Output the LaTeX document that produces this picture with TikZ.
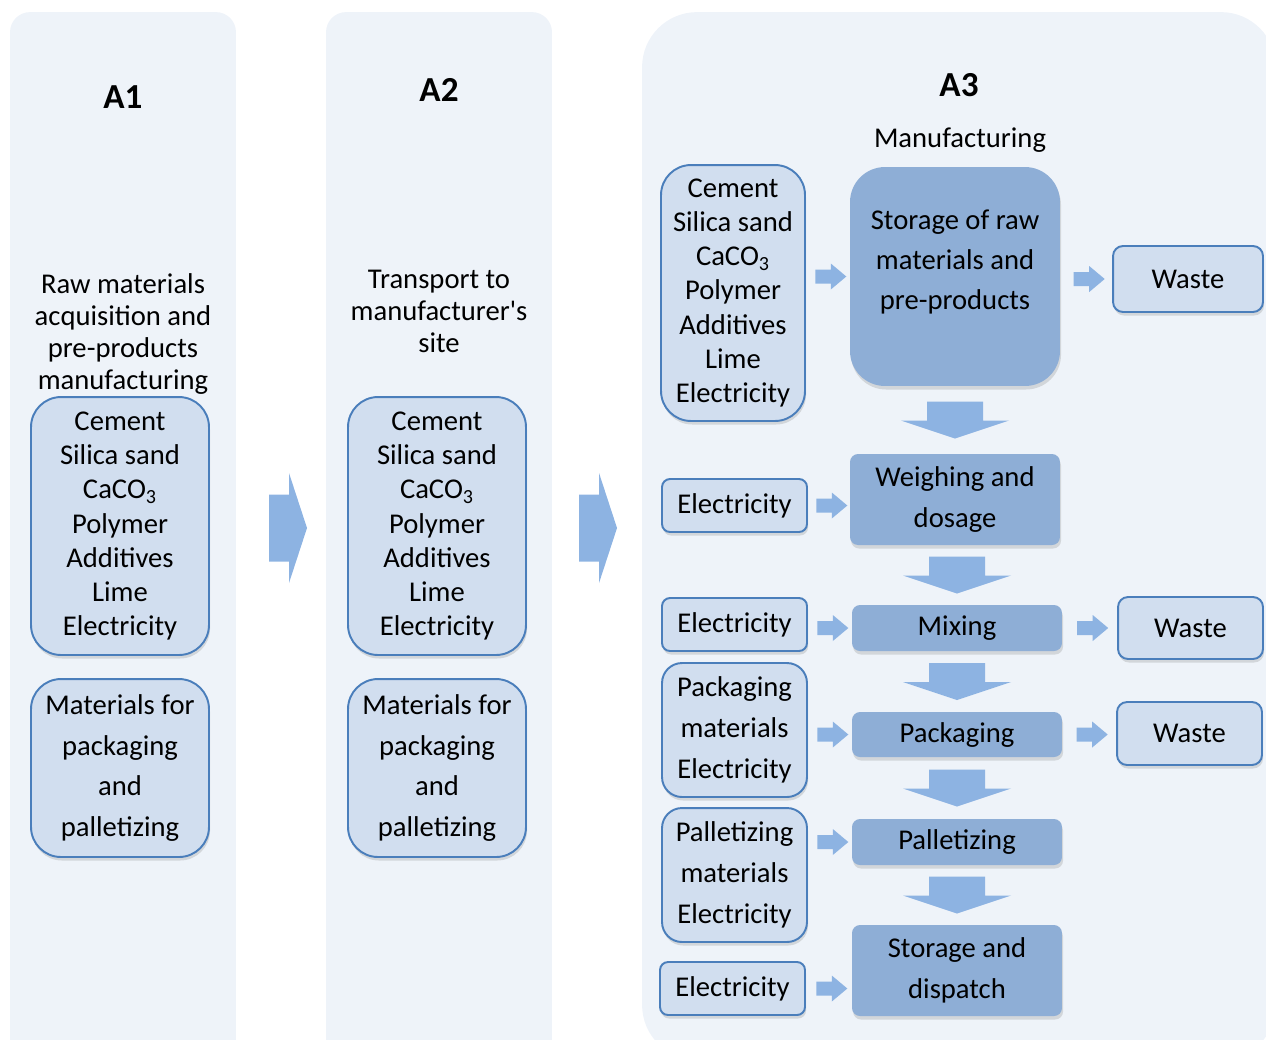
\documentclass[tikz,border=0pt]{standalone}
\usepackage{fontspec}
\setmainfont{Carlito}
\usetikzlibrary{calc, shadows}

\definecolor{panelbg}{HTML}{EEF3F9}
\definecolor{boxfill}{HTML}{D1DEEF}
\definecolor{boxline}{HTML}{4A7EBB}
\definecolor{procfill}{HTML}{8EAED6}
\definecolor{arrowfill}{HTML}{8DB3E2}

\newcommand{\harr}[3]{%
  \coordinate (m) at ($(#1.east)!0.5!(#2.west)$);
  \fill[arrowfill] ($(m |- #3)+(3,0)$) ++(-15.5,-7) -- ++(15.5,0) -- ++(0,-6)
    -- ++(15.5,13) -- ++(-15.5,13) -- ++(0,-6) -- ++(-15.5,0) -- cycle;}
\newcommand{\varr}[2]{%
  \coordinate (m) at ($(#1.south)!0.5!(#2.north)$);
  \fill[arrowfill] (m -| #2) ++(-28,-18.5) -- ++(56,0) -- ++(0,19) -- ++(26,0)
    -- ++(-54,18) -- ++(-54,-18) -- ++(26,0) -- cycle;}
\newcommand{\bigarr}[3]{%
  \coordinate (m) at ($(#1.east)!0.5!(#2.west)$);
  \fill[arrowfill] ($(m)+(#3,-8)$) ++(-19,-33.5) -- ++(20,0) -- ++(0,-21.5)
    -- ++(18,55) -- ++(-18,55) -- ++(0,-21.5) -- ++(-20,0) -- cycle;}

\begin{document}
\begin{tikzpicture}[x=0.02cm, y=-0.02cm,
  font=\fontsize{16.3}{19.4}\selectfont,
  panel/.style={fill=panelbg, rounded corners=0.4cm, minimum width=4.52cm, minimum height=20.96cm, inner sep=0},
  title/.style={font=\fontsize{20}{24}\bfseries},
  desc/.style={align=center, font=\fontsize{16.3}{18.2}\selectfont},
  inbox/.style={draw=boxline, line width=1.1pt, fill=boxfill, align=center, inner sep=0,
    drop shadow={shadow xshift=0.6pt, shadow yshift=-2pt, opacity=0.25}},
  procbox/.style={fill=procfill, align=center, inner sep=0, rounded corners=0.16cm,
    minimum width=4.2cm, drop shadow={shadow xshift=0.6pt, shadow yshift=-2pt, opacity=0.25}},
  listbox/.style={inbox, rounded corners=0.6cm, minimum width=3.56cm, minimum height=5.16cm},
  matbox/.style={inbox, rounded corners=0.6cm, minimum width=3.56cm, minimum height=3.56cm,
    font=\fontsize{16.3}{23.3}\selectfont},
  smallbox/.style={inbox, rounded corners=0.16cm, minimum width=2.9cm, minimum height=1.06cm},
  wastebox/.style={inbox, rounded corners=0.2cm, minimum width=2.9cm, minimum height=1.26cm},
  twoline/.style={font=\fontsize{16.3}{23.3}\selectfont}]
\useasboundingbox (0,0) rectangle (1266,1039);

\node[panel] (p1) at (123,536) {};
\node[panel] (p2) at (439,536) {};
\node[panel, rounded corners=1.1cm, minimum width=12.68cm] (p3) at (959,536) {};

\node[title] (t1) at (123,97) {A1};
\node[title] (t2) at (439,90) {A2};
\node[title] (t3) at (959,85) {A3};

\node[desc] (d1) at (123,334) {Raw materials\\acquisition and\\pre-products\\manufacturing};
\node[desc] (d2) at (439,311) {Transport to\\manufacturer\textquotesingle s\\site};
\node (d3) at (960,140) {Manufacturing};

\node[listbox] (l1) at (120,526) {Cement\\Silica sand\\CaCO\textsubscript{3}\\Polymer\\Additives\\Lime\\Electricity};
\node[matbox] (k1) at (120,768) {Materials for\\packaging\\and\\palletizing};
\node[listbox] (l2) at (437,526) {Cement\\Silica sand\\CaCO\textsubscript{3}\\Polymer\\Additives\\Lime\\Electricity};
\node[matbox] (k2) at (437,768) {Materials for\\packaging\\and\\palletizing};

\node[listbox, minimum width=2.88cm, minimum height=5.12cm] (in0) at (733,293) {Cement\\Silica sand\\CaCO\textsubscript{3}\\Polymer\\Additives\\Lime\\Electricity};
\node[procbox, rounded corners=0.7cm, minimum height=4.38cm] (store) at (955,276.5) {};
\node[twoline, align=center, font=\fontsize{16.3}{22.8}\selectfont] (storetxt) at (955,262) {Storage of raw\\materials and\\pre-products};
\node[wastebox, minimum width=3cm, minimum height=1.32cm] (w1) at (1188,279) {Waste};

\node[smallbox] (e1) at (734.5,505.5) {Electricity};
\node[procbox, twoline, minimum height=1.82cm] (weigh) at (955,499.5) {Weighing and\\dosage};

\node[smallbox] (e2) at (734.5,624.5) {Electricity};
\node[procbox, minimum height=0.92cm] (mix) at (957,628) {Mixing};
\node[wastebox, minimum height=1.24cm] (w2) at (1190.5,628) {Waste};

\node[smallbox, twoline, rounded corners=0.4cm, minimum height=2.68cm] (pm) at (734.5,730) {Packaging\\materials\\Electricity};
\node[procbox, minimum height=0.9cm] (pack) at (957,734.5) {Packaging};
\node[wastebox] (w3) at (1189.5,733.5) {Waste};

\node[smallbox, twoline, rounded corners=0.4cm, minimum height=2.68cm] (lm) at (734.5,875) {Palletizing\\materials\\Electricity};
\node[procbox, minimum height=0.92cm] (pall) at (957,842) {Palletizing};

\node[smallbox] (e3) at (732.5,988.5) {Electricity};
\node[procbox, twoline, minimum height=1.82cm] (disp) at (957,970.5) {Storage and\\dispatch};

\bigarr{p1}{p2}{7}
\bigarr{p2}{p3}{1}

\harr{in0}{store}{store}
\harr{store}{w1}{w1}
\harr{e1}{weigh}{e1}
\harr{e2}{mix}{mix}
\harr{mix}{w2}{w2}
\harr{pm}{pack}{pack}
\harr{pack}{w3}{pack}
\harr{lm}{pall}{pall}
\harr{e3}{disp}{e3}

\varr{store}{weigh}
\varr{weigh}{mix}
\varr{mix}{pack}
\varr{pack}{pall}
\varr{pall}{disp}
\end{tikzpicture}
\end{document}
